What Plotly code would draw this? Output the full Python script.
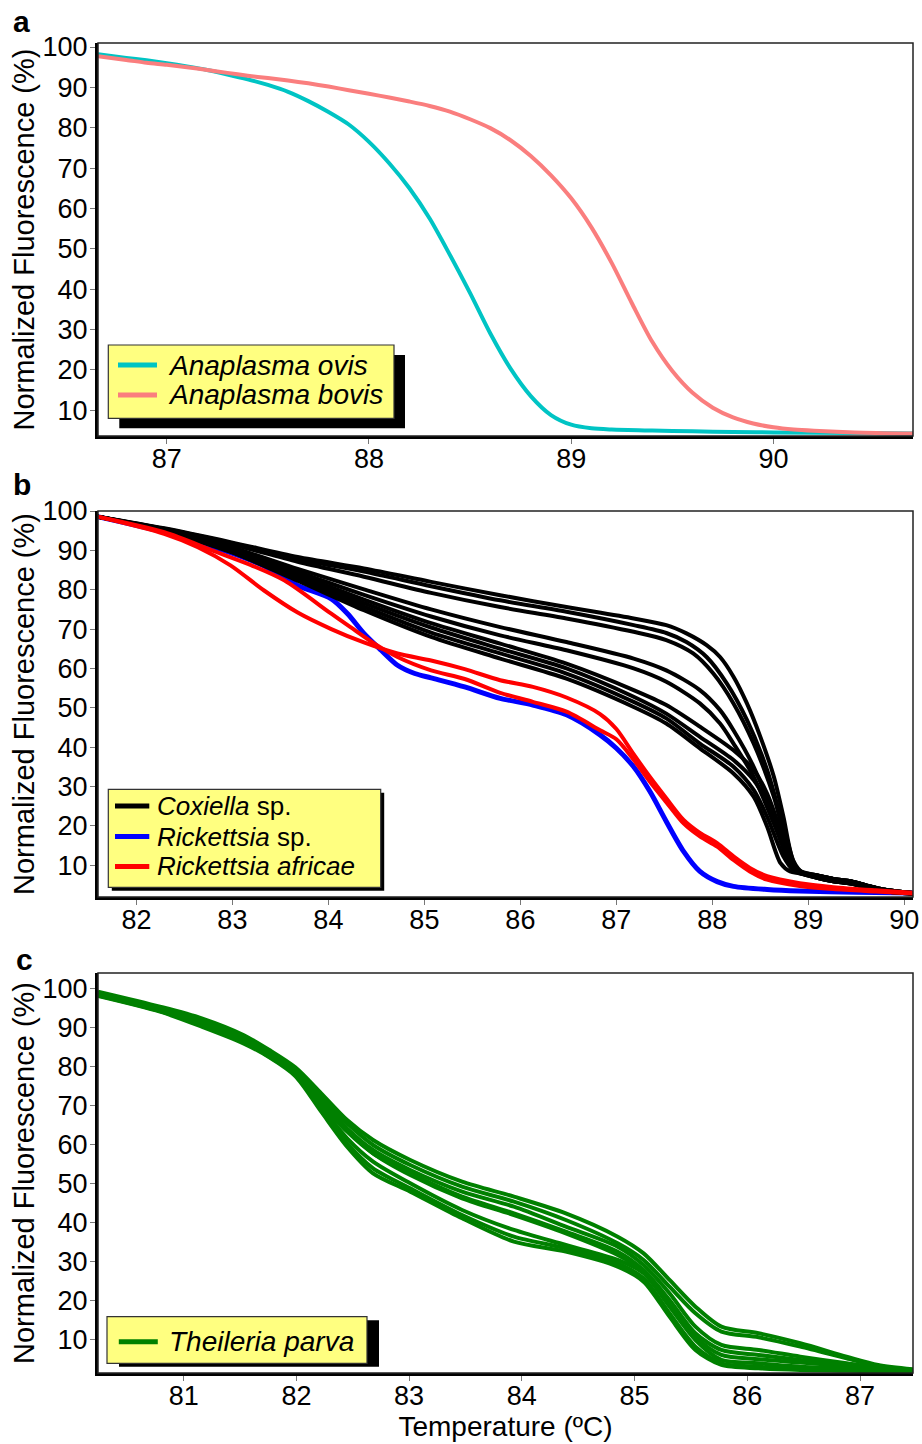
import plotly.graph_objects as go

FONT = "Liberation Sans, Arial, Helvetica, sans-serif"

# ---------------- Panel a : Anaplasma ----------------
a_ovis_temp = [86.66, 86.8, 86.9, 87.0, 87.1, 87.2, 87.3, 87.4, 87.5, 87.6, 87.7, 87.8, 87.9, 88.0,
               88.1, 88.2, 88.3, 88.4, 88.5, 88.6, 88.7, 88.8, 88.9, 89.0, 89.1, 89.2, 89.4, 89.6,
               89.8, 90.0, 90.4, 90.69]
a_ovis_vals = [98.2, 97.3, 96.7, 96.0, 95.2, 94.3, 93.2, 92.0, 90.6, 88.9, 86.6, 83.9, 80.8, 76.5,
               71.2, 65.0, 57.5, 48.5, 39.0, 29.0, 20.3, 13.5, 8.8, 6.4, 5.5, 5.2, 4.95, 4.75,
               4.6, 4.5, 4.35, 4.25]
a_bovis_temp = [86.66, 86.8, 86.9, 87.0, 87.1, 87.2, 87.3, 87.4, 87.5, 87.6, 87.7, 87.8, 87.9, 88.0,
                88.1, 88.2, 88.3, 88.4, 88.5, 88.6, 88.7, 88.8, 88.9, 89.0, 89.1, 89.2, 89.3, 89.4,
                89.5, 89.6, 89.7, 89.8, 89.9, 90.0, 90.1, 90.2, 90.4, 90.69]
a_bovis_vals = [97.7, 96.8, 96.1, 95.6, 95.0, 94.3, 93.6, 92.9, 92.3, 91.7, 91.0, 90.2, 89.3, 88.4,
                87.5, 86.5, 85.4, 84.0, 82.1, 79.9, 76.9, 73.0, 68.2, 62.5, 55.3, 46.5, 36.5, 27.0,
                19.7, 14.3, 10.6, 8.2, 6.7, 5.75, 5.2, 4.9, 4.5, 4.2]
a_legend_labels = ["<i>Anaplasma ovis</i>", "<i>Anaplasma bovis</i>"]
a_legend_colors = ["#00C4C4", "#FA7E7E"]

# ---------------- Panel b : Coxiella / Rickettsia ----------------
b_tail_temp = [89.09, 89.26, 89.44, 89.61, 89.78, 90.09]
b_tail_a = [7.4, 6.5, 5.9, 4.8, 3.8, 2.9]
b_tail_b = [6.8, 5.9, 5.3, 4.3, 3.4, 2.7]

b_coxiella_temp = [
    [81.59, 82.29, 82.98, 83.68, 84.37, 85.07, 85.79, 86.48, 87.18, 87.52, 87.73, 87.94, 88.08, 88.22, 88.36, 88.50, 88.64, 88.74, 88.84, 88.95],
    [81.59, 82.29, 82.98, 83.68, 84.37, 85.07, 85.79, 86.48, 87.18, 87.52, 87.73, 87.94, 88.15, 88.36, 88.57, 88.77, 88.88],
    [81.59, 82.29, 82.98, 83.68, 84.37, 85.07, 85.79, 86.48, 87.18, 87.52, 87.80, 88.01, 88.22, 88.43, 88.64, 88.81, 88.91],
    [81.59, 82.29, 82.98, 83.68, 84.37, 85.07, 85.79, 86.48, 87.18, 87.52, 87.87, 88.08, 88.22, 88.43, 88.64, 88.77, 88.88],
    [81.59, 82.29, 82.98, 83.68, 84.37, 85.07, 85.79, 86.48, 87.18, 87.52, 87.87, 88.08, 88.22, 88.43, 88.64, 88.81, 88.91],
    [81.59, 82.29, 82.98, 83.68, 84.37, 85.07, 85.79, 86.48, 87.18, 87.52, 87.87, 88.22, 88.43, 88.57, 88.71, 88.84, 88.95],
    [81.59, 82.29, 82.98, 83.68, 84.37, 85.07, 85.79, 86.48, 87.18, 87.52, 87.87, 88.22, 88.43, 88.57, 88.74, 88.84],
    [81.59, 82.29, 82.98, 83.68, 84.37, 85.07, 85.79, 86.48, 87.18, 87.52, 87.87, 88.22, 88.43, 88.57, 88.74, 88.84],
    [81.59, 82.29, 82.98, 83.68, 84.37, 85.07, 85.79, 86.48, 87.18, 87.52, 87.87, 88.22, 88.43, 88.57, 88.71, 88.81],
]
b_coxiella_vals = [
    [98.6, 95.6, 92.1, 88.3, 85.4, 82.0, 78.6, 75.6, 72.7, 71.0, 68.9, 65.9, 62.9, 57.9, 51.1, 42.6, 32.5, 22.3, 11.3, 7.9],
    [98.6, 95.5, 91.9, 87.8, 84.6, 80.9, 77.3, 74.4, 71.0, 69.0, 66.7, 62.9, 56.2, 46.9, 34.2, 17.2, 9.2],
    [98.6, 95.4, 91.6, 87.1, 83.3, 79.2, 75.6, 72.7, 69.3, 67.2, 63.8, 58.7, 51.1, 40.9, 27.4, 12.2, 8.4],
    [98.6, 95.2, 90.9, 85.3, 80.1, 75.0, 70.5, 66.7, 62.5, 59.5, 54.5, 49.4, 44.3, 35.0, 22.3, 12.2, 8.4],
    [98.6, 95.1, 90.5, 84.5, 78.7, 73.2, 68.4, 64.6, 60.0, 56.6, 51.1, 46.0, 40.9, 32.5, 20.6, 10.5, 7.9],
    [98.6, 95.0, 90.2, 83.8, 77.5, 71.5, 66.3, 61.2, 54.5, 50.7, 45.2, 39.2, 34.2, 28.2, 18.9, 9.6, 7.8],
    [98.6, 94.9, 90.0, 83.3, 76.6, 70.4, 65.0, 60.0, 52.8, 48.5, 42.6, 36.7, 31.6, 25.7, 14.7, 9.2],
    [98.6, 94.9, 89.8, 82.8, 75.7, 69.1, 63.8, 58.7, 51.5, 47.3, 40.9, 35.0, 29.1, 22.3, 12.2, 8.8],
    [98.6, 94.8, 89.6, 82.3, 74.8, 68.0, 62.5, 57.4, 50.2, 46.0, 39.7, 33.3, 27.4, 19.8, 10.5, 8.4],
]
b_coxiella_tail = ["a", "b", "a", "b", "a", "b", "a", "b", "a"]

b_rick_sp_temp = [81.59, 82.29, 82.98, 83.33, 83.68, 84.03, 84.2, 84.37, 84.55, 84.72, 84.9, 85.07,
                  85.42, 85.79, 86.13, 86.48, 86.83, 87.0, 87.18, 87.35, 87.52, 87.70, 87.87, 88.05,
                  88.22, 88.57, 88.91, 89.5, 90.09]
b_rick_sp_vals = [98.6, 94.6, 89.4, 86.0, 81.1, 77.7, 73.9, 68.9, 64.6, 60.8, 58.7, 57.6,
                  55.3, 52.4, 50.7, 48.2, 43.1, 39.7, 35.0, 28.7, 21.1, 13.5, 8.4, 5.8,
                  4.6, 3.8, 3.4, 3.1, 2.9]

b_africae_temp = [
    [81.59, 82.29, 82.64, 82.98, 83.33, 83.68, 84.03, 84.37, 84.72, 85.07, 85.42, 85.79, 86.13, 86.48,
     86.83, 87.0, 87.18, 87.35, 87.52, 87.70, 87.87, 88.05, 88.22, 88.39, 88.57, 88.91, 89.26, 89.7, 90.09],
    [81.59, 82.29, 82.81, 83.2, 83.54, 84.03, 84.23, 84.48, 84.72, 85.07, 85.42, 85.79, 86.13, 86.48,
     86.83, 87.0, 87.18, 87.35, 87.52, 87.70, 87.87, 88.05, 88.22, 88.39, 88.57, 88.91, 89.26, 89.7, 90.09],
]
b_africae_vals = [
    [98.6, 94.2, 90.8, 86.2, 79.8, 74.2, 70.0, 66.6, 63.8, 62.0, 59.8, 57.0, 55.3, 52.6,
     48.4, 44.6, 38.2, 32.4, 27.0, 21.5, 18.2, 15.6, 12.2, 9.3, 7.2, 5.4, 4.4, 3.6, 3.0],
    [98.6, 94.6, 89.8, 86.2, 82.4, 73.9, 70.5, 66.3, 62.9, 59.5, 57.3, 53.8, 51.5, 49.0,
     44.3, 42.0, 36.8, 31.2, 26.0, 20.6, 17.3, 14.7, 11.3, 8.4, 6.3, 4.7, 3.9, 3.3, 2.8],
]
b_legend_labels = ["<i>Coxiella</i> sp.", "<i>Rickettsia</i> sp.", "<i>Rickettsia africae</i>"]
b_legend_colors = ["#000000", "#0000FF", "#FF0000"]

# ---------------- Panel c : Theileria parva ----------------
c_temp = [80.24, 80.79, 81.16, 81.53, 81.76, 81.99, 82.22, 82.45, 82.68, 83.01, 83.47, 83.93,
          84.39, 84.85, 85.08, 85.31, 85.54, 85.77, 86.10, 86.47, 86.88, 87.16, 87.47]
c_theileria_vals = [
    [99.19, 95.34, 92.35, 88.08, 84.23, 79.79, 73.12, 66.28, 61.15, 56.03, 50.47, 46.62, 42.35, 36.37, 32.09, 25.26, 18.42, 13.29, 11.58, 9.02, 5.60, 3.46, 2.35],
    [98.93, 95.00, 91.92, 87.65, 83.80, 79.27, 72.27, 65.43, 59.87, 54.74, 49.19, 45.34, 40.64, 34.66, 30.39, 23.55, 16.71, 12.01, 10.56, 8.16, 5.17, 3.21, 2.18],
    [98.76, 94.83, 91.67, 87.31, 83.38, 78.93, 71.41, 64.15, 58.59, 53.46, 47.91, 44.06, 38.93, 33.80, 29.10, 21.84, 13.29, 8.59, 7.31, 5.60, 3.89, 2.78, 2.01],
    [98.59, 94.66, 91.33, 86.97, 83.03, 78.59, 70.56, 63.29, 57.74, 52.61, 46.62, 42.35, 37.65, 32.52, 27.82, 20.13, 11.58, 7.31, 6.03, 4.74, 3.46, 2.61, 1.92],
    [98.42, 94.40, 90.90, 86.62, 82.86, 78.25, 69.70, 61.58, 55.60, 50.04, 43.21, 38.08, 34.23, 30.39, 26.97, 18.42, 9.87, 4.74, 3.89, 3.03, 2.61, 2.18, 1.75],
    [98.25, 94.23, 90.56, 86.28, 82.52, 77.91, 68.85, 60.30, 53.89, 48.76, 41.92, 36.37, 33.38, 29.53, 25.68, 16.71, 8.16, 3.89, 3.03, 2.44, 2.18, 2.01, 1.75],
    [98.08, 94.06, 90.21, 85.94, 82.35, 77.56, 68.42, 59.44, 52.61, 47.91, 41.07, 35.09, 32.52, 28.68, 24.83, 15.86, 7.31, 3.46, 2.61, 2.18, 2.01, 1.84, 1.67],
    [98.68, 94.74, 91.50, 87.14, 83.21, 78.76, 70.98, 63.72, 57.74, 52.18, 46.20, 41.92, 37.22, 31.67, 27.39, 19.70, 10.73, 6.03, 4.92, 4.06, 3.21, 2.52, 1.84],
]
c_legend_labels = ["<i>Theileria parva</i>"]
c_legend_colors = ["#008000"]

y_ticks = [10, 20, 30, 40, 50, 60, 70, 80, 90, 100]
a_x_ticks = [87, 88, 89, 90]
b_x_ticks = [82, 83, 84, 85, 86, 87, 88, 89, 90]
c_x_ticks = [81, 82, 83, 84, 85, 86, 87]

LW = 4
SPL = dict(shape="spline", smoothing=0.8)

fig = go.Figure()

# panel a
fig.add_trace(go.Scatter(x=a_ovis_temp, y=a_ovis_vals, mode="lines", name="Anaplasma ovis",
                         line=dict(color=a_legend_colors[0], width=LW, **SPL), xaxis="x", yaxis="y"))
fig.add_trace(go.Scatter(x=a_bovis_temp, y=a_bovis_vals, mode="lines", name="Anaplasma bovis",
                         line=dict(color=a_legend_colors[1], width=LW, **SPL), xaxis="x", yaxis="y"))

# panel b
fig.add_trace(go.Scatter(x=b_rick_sp_temp, y=b_rick_sp_vals, mode="lines", name="Rickettsia sp.",
                         line=dict(color=b_legend_colors[1], width=5, **SPL), xaxis="x2", yaxis="y2"))
for i, (t, v) in enumerate(zip(b_coxiella_temp, b_coxiella_vals)):
    tail = b_tail_a if b_coxiella_tail[i] == "a" else b_tail_b
    fig.add_trace(go.Scatter(x=t + b_tail_temp, y=v + tail, mode="lines", name="Coxiella sp.",
                             line=dict(color=b_legend_colors[0], width=LW, **SPL), xaxis="x2", yaxis="y2"))
for t, v in zip(b_africae_temp, b_africae_vals):
    fig.add_trace(go.Scatter(x=t, y=v, mode="lines", name="Rickettsia africae",
                             line=dict(color=b_legend_colors[2], width=LW, **SPL), xaxis="x2", yaxis="y2"))

# panel c
for v in c_theileria_vals:
    fig.add_trace(go.Scatter(x=c_temp, y=v, mode="lines", name="Theileria parva",
                             line=dict(color=c_legend_colors[0], width=LW, **SPL), xaxis="x3", yaxis="y3"))


def ax(**kw):
    d = dict(showline=True, linecolor="black", linewidth=3, ticks="outside", ticklen=5, tickwidth=1,
             tickcolor="#777777", showgrid=False, zeroline=False, automargin=False,
             tickfont=dict(size=27, color="black", family=FONT))
    d.update(kw)
    return d


ytitle = dict(text="Normalized Fluorescence (%)", font=dict(size=29, color="black", family=FONT), standoff=0)

fig.update_layout(
    width=922, height=1444, template="none",
    margin=dict(l=98, r=9, t=43, b=71),
    plot_bgcolor="white", paper_bgcolor="white",
    font=dict(family=FONT, color="black"),
    showlegend=False,
    xaxis=ax(domain=[0, 1], anchor="y", range=[86.66, 90.69], tickvals=a_x_ticks, ticklabelstandoff=-8),
    yaxis=ax(domain=[0.7045, 1.0], anchor="x", range=[3.6, 101.0], tickvals=y_ticks, title=ytitle,
             ticklabelstandoff=-3),
    xaxis2=ax(domain=[0, 1], anchor="y2", range=[81.6, 90.09], tickvals=b_x_ticks, ticklabelstandoff=-8),
    yaxis2=ax(domain=[0.3579, 0.6481], anchor="x2", range=[1.9, 100.0], tickvals=y_ticks, title=ytitle,
              ticklabelstandoff=-3),
    xaxis3=ax(domain=[0, 1], anchor="y3", range=[80.24, 87.47], tickvals=c_x_ticks, ticklabelstandoff=-8,
              title=dict(text="Temperature (ºC)", font=dict(size=28, color="black", family=FONT), standoff=2)),
    yaxis3=ax(domain=[0, 0.3008], anchor="x3", range=[1.4, 104.0], tickvals=y_ticks, title=ytitle,
              ticklabelstandoff=-3),
)

shapes = []
annotations = []
# plot frames (thin top/right)
for xr, yr in [("x", "y"), ("x2", "y2"), ("x3", "y3")]:
    shapes.append(dict(type="rect", xref=xr + " domain", yref=yr + " domain", x0=0, x1=1, y0=0, y1=1,
                       line=dict(color="#222222", width=1.5), layer="above"))

# legend boxes with drop shadows
legends = [
    dict(box=(0.01264, 0.36319, 0.71782, 0.77293), shadow=(0.02613, 0.37669, 0.71030, 0.76541),
         sx=(0.02454, 0.07239), ys=[0.75789, 0.73534], tx=0.0835, size=28,
         labels=a_legend_labels, colors=a_legend_colors),
    dict(box=(0.01264, 0.34687, 0.36519, 0.43887), shadow=(0.01693, 0.35117, 0.36256, 0.43624),
         sx=(0.02086, 0.06294), ys=[0.42632, 0.40338, 0.38083], tx=0.0695, size=26,
         labels=b_legend_labels, colors=b_legend_colors),
    dict(box=(0.01104, 0.33006, 0.00729, 0.04233), shadow=(0.02577, 0.34479, 0.00466, 0.03970),
         sx=(0.02552, 0.07337), ys=[0.02353], tx=0.0847, size=28,
         labels=c_legend_labels, colors=c_legend_colors),
]
for lg in legends:
    x0, x1, y0, y1 = lg["shadow"]
    shapes.append(dict(type="rect", xref="paper", yref="paper", x0=x0, x1=x1, y0=y0, y1=y1,
                       fillcolor="black", line=dict(width=0), layer="above"))
    x0, x1, y0, y1 = lg["box"]
    shapes.append(dict(type="rect", xref="paper", yref="paper", x0=x0, x1=x1, y0=y0, y1=y1,
                       fillcolor="#FFFF80", line=dict(color="#333333", width=1.2), layer="above"))
    for yy, lab, col in zip(lg["ys"], lg["labels"], lg["colors"]):
        shapes.append(dict(type="line", xref="paper", yref="paper", x0=lg["sx"][0], x1=lg["sx"][1],
                           y0=yy, y1=yy, line=dict(color=col, width=5), layer="above"))
        annotations.append(dict(text=lab, xref="paper", yref="paper", x=lg["tx"], y=yy,
                                xanchor="left", yanchor="middle", showarrow=False,
                                font=dict(size=lg["size"], color="black", family=FONT)))

for lab, x, y in [("a", -0.0933, 1.0165), ("b", -0.0933, 0.6677), ("c", -0.0896, 0.3109)]:
    annotations.append(dict(text="<b>%s</b>" % lab, xref="paper", yref="paper", x=x, y=y,
                            xanchor="center", yanchor="middle", showarrow=False,
                            font=dict(size=30, color="black", family=FONT)))

fig.update_layout(shapes=shapes, annotations=annotations)

# remove the browser's default 8px page margin so the 922x1444 figure fills the window exactly
fig.write_html("out.html", config={"displayModeBar": False},
               post_script="document.body.style.margin='0px';")
